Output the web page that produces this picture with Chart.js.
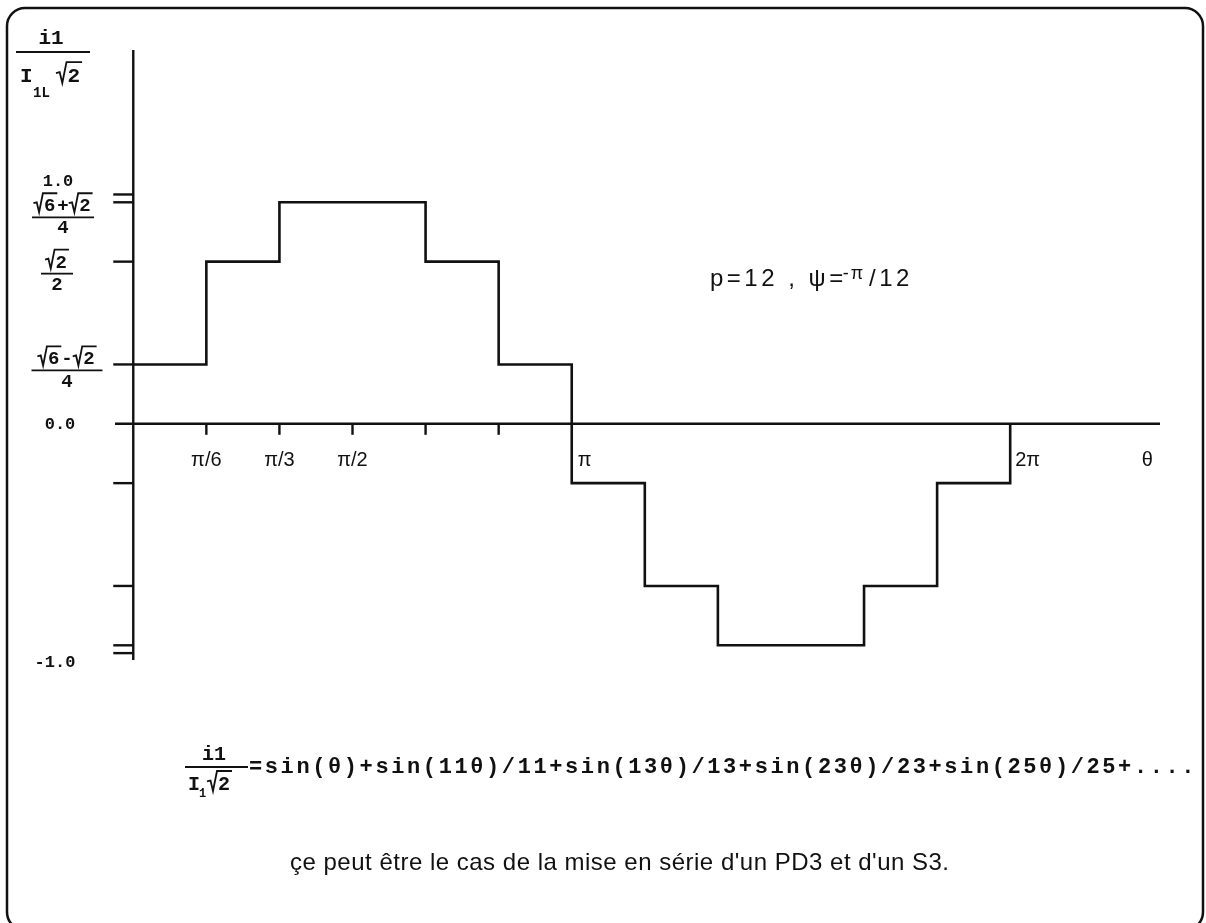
<!DOCTYPE html>
<html>
<head>
<meta charset="utf-8">
<script src="https://cdn.jsdelivr.net/npm/chart.js@4.4.1/dist/chart.umd.min.js"></script>
<style>
  html, body { margin: 0; padding: 0; background: #fff; }
  #wrap { width: 1206px; height: 923px; position: relative; }
</style>
</head>
<body>
<div id="wrap"><canvas id="stepChart"></canvas></div>
<script>
// angle in steps of pi/6, current level i1 / (I1L*sqrt2)
const theta = [0, 1, 2, 4, 5, 6, 7, 8, 10, 11, 12, 12];
const current = [0.2588, 0.7071, 0.9659, 0.7071, 0.2588, -0.2588, -0.7071, -0.9659, -0.7071, -0.2588, -0.2588, 0];

// x axis ticks (pi/6 steps) and their labels
const xTicks = [1, 2, 3, 4, 5];
const xTickLabels = ['π/6', 'π/3', 'π/2', '', ''];

// y axis ticks: 1, (√6+√2)/4, √2/2, (√6−√2)/4 and the negatives
const yTicks = [1.0, 0.9659, 0.7071, 0.2588, -0.2588, -0.7071, -0.9659, -1.0];

const MONO = '"Liberation Mono", "DejaVu Sans Mono", monospace';
const SANS = '"Liberation Sans", "DejaVu Sans", sans-serif';

// radical sign followed by its argument, returns the advance width
function radical(ctx, x, base, arg, size) {
  ctx.font = 'bold ' + size + 'px ' + MONO;
  const w = ctx.measureText(arg).width;
  const h = size * 0.95;
  const r = size * 0.5;
  ctx.beginPath();
  ctx.moveTo(x, base - h * 0.45);
  ctx.lineTo(x + r * 0.35, base - h * 0.5);
  ctx.lineTo(x + r * 0.6, base + 1);
  ctx.lineTo(x + r, base - h);
  ctx.lineTo(x + r + w + 3, base - h);
  ctx.stroke();
  ctx.fillText(arg, x + r + 1, base);
  return r + w + 3;
}

function tokenWidth(ctx, tokens, size) {
  ctx.font = 'bold ' + size + 'px ' + MONO;
  let w = 0;
  tokens.forEach(t => {
    if (typeof t === 'string') w += ctx.measureText(t).width;
    else w += size * 0.5 + ctx.measureText(t.r).width + 3;
  });
  return w;
}

function drawTokens(ctx, x, base, tokens, size) {
  tokens.forEach(t => {
    ctx.font = 'bold ' + size + 'px ' + MONO;
    if (typeof t === 'string') {
      ctx.fillText(t, x, base);
      x += ctx.measureText(t).width;
    } else {
      x += radical(ctx, x, base, t.r, size);
    }
  });
}

// fraction centred on cx with its bar at y
function fraction(ctx, cx, y, num, den, size, barW) {
  const nw = tokenWidth(ctx, num, size);
  const dw = tokenWidth(ctx, den, size);
  drawTokens(ctx, cx - nw / 2, y - 6, num, size);
  drawTokens(ctx, cx - dw / 2, y + size * 0.85, den, size);
  const bw = barW || Math.max(nw, dw) + 6;
  ctx.beginPath();
  ctx.moveTo(cx - bw / 2, y);
  ctx.lineTo(cx + bw / 2, y);
  ctx.stroke();
}

const figurePlugin = {
  id: 'figure',
  beforeDatasetsDraw(chart) {
    const { ctx, chartArea: a, scales: { x, y } } = chart;
    const x0 = x.getPixelForValue(0);
    const y0 = y.getPixelForValue(0);
    ctx.save();
    ctx.strokeStyle = '#111';
    ctx.fillStyle = '#111';
    ctx.lineWidth = 2.4;

    // axes through the origin
    ctx.beginPath();
    ctx.moveTo(a.left, y0); ctx.lineTo(a.right, y0);
    ctx.moveTo(x0, a.top); ctx.lineTo(x0, a.bottom);
    ctx.stroke();

    // x ticks below the axis
    ctx.font = '20px ' + SANS;
    ctx.textAlign = 'center';
    xTicks.forEach((v, i) => {
      const px = x.getPixelForValue(v);
      ctx.beginPath();
      ctx.moveTo(px, y0); ctx.lineTo(px, y0 + 11);
      ctx.stroke();
      ctx.fillText(xTickLabels[i], px, y0 + 42);
    });
    ctx.textAlign = 'left';
    ctx.fillText('π', x.getPixelForValue(6) + 6, y0 + 42);
    ctx.fillText('2π', x.getPixelForValue(12) + 5, y0 + 42);
    ctx.fillText('θ', x.getPixelForValue(13.8), y0 + 42);

    // y ticks to the left of the axis
    yTicks.forEach(v => {
      const py = y.getPixelForValue(v);
      ctx.beginPath();
      ctx.moveTo(x0 - 20, py); ctx.lineTo(x0, py);
      ctx.stroke();
    });

    // y tick labels
    ctx.lineWidth = 1.8;
    ctx.font = 'bold 17px ' + MONO;
    ctx.textAlign = 'center';
    ctx.textBaseline = 'middle';
    ctx.fillText('1.0', 58, y.getPixelForValue(1.0) - 13);
    ctx.fillText('0.0', 60, y0 + 1);
    ctx.fillText('-1.0', 55, y.getPixelForValue(-1.0) + 10);
    ctx.textAlign = 'left';
    ctx.textBaseline = 'alphabetic';
    fraction(ctx, 63, y.getPixelForValue(0.9659) + 15, [{ r: '6' }, '+', { r: '2' }], ['4'], 19, 62);
    fraction(ctx, 57, y.getPixelForValue(0.7071) + 12, [{ r: '2' }], ['2'], 19, 32);
    fraction(ctx, 67, y.getPixelForValue(0.2588) + 6, [{ r: '6' }, '-', { r: '2' }], ['4'], 19, 71);
    ctx.restore();
  },
  afterDraw(chart) {
    const { ctx } = chart;
    ctx.save();
    ctx.strokeStyle = '#111';
    ctx.fillStyle = '#111';

    // frame
    ctx.lineWidth = 2.5;
    ctx.beginPath();
    ctx.roundRect(7, 8, 1196, 922, 18);
    ctx.stroke();

    // y axis title i1 / (I1L √2)
    ctx.lineWidth = 1.8;
    ctx.font = 'bold 21px ' + MONO;
    ctx.textAlign = 'center';
    ctx.fillText('i1', 51, 44);
    ctx.beginPath(); ctx.moveTo(16, 52); ctx.lineTo(90, 52); ctx.stroke();
    ctx.textAlign = 'left';
    ctx.fillText('I', 20, 82);
    ctx.font = 'bold 14px ' + MONO;
    ctx.fillText('1L', 33, 97);
    radical(ctx, 56, 82, '2', 21);

    // annotation
    const ax = 710;
    ctx.font = '24px ' + SANS;
    ctx.letterSpacing = '3.5px';
    ctx.fillText('p=12 , ψ=', ax, 286);
    const pw = ctx.measureText('p=12 , ψ=').width;
    ctx.font = '18px ' + SANS;
    ctx.letterSpacing = '2px';
    ctx.fillText('-π', ax + pw - 4, 279);
    const mw = ctx.measureText('-π').width;
    ctx.font = '24px ' + SANS;
    ctx.letterSpacing = '3.5px';
    ctx.fillText('/12', ax + pw + mw, 286);

    // Fourier series
    ctx.letterSpacing = '0px';
    ctx.lineWidth = 1.8;
    ctx.font = 'bold 20px ' + MONO;
    ctx.textAlign = 'center';
    ctx.fillText('i1', 214, 760);
    ctx.beginPath(); ctx.moveTo(185, 767); ctx.lineTo(248, 767); ctx.stroke();
    ctx.textAlign = 'left';
    ctx.fillText('I', 188, 790);
    ctx.font = 'bold 12px ' + MONO;
    ctx.fillText('1', 199, 797);
    radical(ctx, 207, 790, '2', 20);
    ctx.font = 'bold 22px ' + MONO;
    ctx.letterSpacing = '2.6px';
    ctx.fillText('=sin(θ)+sin(11θ)/11+sin(13θ)/13+sin(23θ)/23+sin(25θ)/25+....', 249, 773);

    // remark
    ctx.font = '24px ' + SANS;
    ctx.letterSpacing = '0.5px';
    ctx.fillText('çe peut être le cas de la mise en série d\'un PD3 et d\'un S3.', 290, 870);
    ctx.restore();
  }
};

const ctx = document.getElementById('stepChart').getContext('2d');

new Chart(ctx, {
  type: 'line',
  data: {
    datasets: [{
      data: theta.map((t, i) => ({ x: t, y: current[i] })),
      stepped: 'before',
      borderColor: '#111',
      borderWidth: 2.6,
      pointRadius: 0,
      fill: false,
      clip: false
    }]
  },
  options: {
    responsive: true,
    maintainAspectRatio: false,
    animation: false,
    events: [],
    layout: { padding: { left: 115, right: 46, top: 50, bottom: 263 } },
    plugins: { legend: { display: false }, tooltip: { enabled: false } },
    scales: {
      x: { type: 'linear', min: -0.25, max: 14.05, display: false },
      y: { type: 'linear', min: -1.03, max: 1.63, display: false }
    }
  },
  plugins: [figurePlugin]
});
</script>
</body>
</html>
